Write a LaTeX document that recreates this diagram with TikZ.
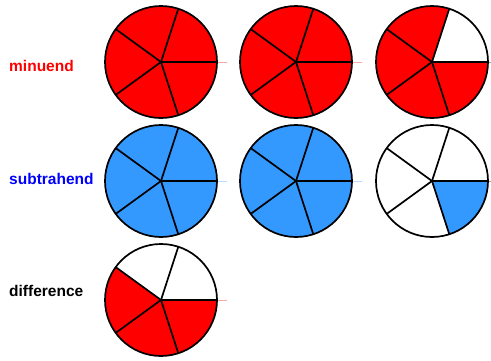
\documentclass[tikz,border=0pt]{standalone}
\usepackage{fontspec}
\setsansfont{Liberation Sans}
\definecolor{pieblue}{RGB}{51,153,255}
% one circle cut in five: centre, stub colour, then the five sector fills
\newcommand{\fivepie}[7]{%
  \foreach \c [count=\k from 0] in {#3,#4,#5,#6,#7}
    \fill[\c] (#1) -- ++(72*\k:56) arc[start angle=72*\k, delta angle=72, radius=56] -- cycle;
  \draw[#2!35, line width=0.8pt] (#1) ++(56,0) -- ++(10,0);
  \foreach \k in {0,...,4}
    \draw[pieline] (#1) -- ++(72*\k:56);
  \draw[pieline] (#1) circle[radius=56];
}

\begin{document}
\begin{tikzpicture}[x=1pt,y=1pt,
  lbl/.style={font=\sffamily\bfseries\fontsize{15.5}{18}\selectfont, anchor=base west, inner sep=0pt},
  pieline/.style={line width=1.7pt, line join=round}]
  \useasboundingbox (0,0) rectangle (491,360);
  % row labels
  \node[lbl, text=red] (minuend) at (9,289) {minuend};
  \node[lbl, text=blue] (subtrahend) at (9,176) {subtrahend};
  \node[lbl, text=black] (difference) at (9,64) {difference};
  % circle centres
  \coordinate (m1) at (161,298);
  \coordinate (m2) at (296,298);
  \coordinate (m3) at (432,298);
  \coordinate (s1) at (161,179);
  \coordinate (s2) at (296,179);
  \coordinate (s3) at (432,179);
  \coordinate (d1) at (161,60);
  % minuend
  \fivepie{m1}{red}{red}{red}{red}{red}{red}
  \fivepie{m2}{red}{red}{red}{red}{red}{red}
  \fivepie{m3}{black}{white}{red}{red}{red}{red}
  % subtrahend
  \fivepie{s1}{pieblue}{pieblue}{pieblue}{pieblue}{pieblue}{pieblue}
  \fivepie{s2}{pieblue}{pieblue}{pieblue}{pieblue}{pieblue}{pieblue}
  \fivepie{s3}{black}{white}{white}{white}{white}{pieblue}
  % difference
  \fivepie{d1}{red}{white}{white}{red}{red}{red}
\end{tikzpicture}
\end{document}
